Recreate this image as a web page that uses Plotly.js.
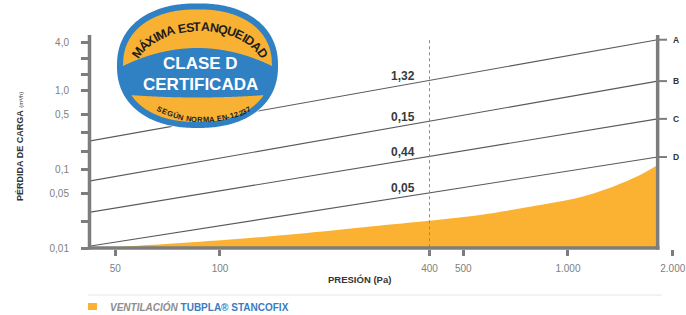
<!DOCTYPE html>
<html><head><meta charset="utf-8">
<script src="https://cdn.plot.ly/plotly-3.0.1.min.js"></script>
<style>html,body{margin:0;padding:0;background:#fff}#chart{width:686px;height:315px}</style>
</head><body><div id="chart"></div>
<script>
// ---------------- data ----------------
const classNames = ['A', 'B', 'C', 'D'];
const classLabels = ['1,32', '0,15', '0,44', '0,05'];
const pressureEnds = [42, 1810];                 // Pa, left and right end of class lines
const lossA = [0.23, 4.4];
const lossB = [0.072, 1.32];
const lossC = [0.029, 0.44];
const lossD = [0.0108, 0.145];
const tubplaPressure = [42, 79, 154, 298, 400, 559, 778, 1083, 1347, 1611, 1810];
const tubplaLoss = [0.0101, 0.0120, 0.0150, 0.0201, 0.0228, 0.0269, 0.0342, 0.0450, 0.0612, 0.0860, 0.115];
const refPressure = 400;
const xTickVals = [50, 100, 400, 500, 1000, 2000];
const xTickText = ['50', '100', '400', '500', '1.000', '2.000'];
const yTickVals = [4, 2.52, 1.59, 1, 0.5, 0.292, 0.171, 0.1, 0.05, 0.0224, 0.01];
const yTickText = ['4,0', '', '', '1,0', '0,5', '', '', '0,1', '0,05', '', '0,01'];
const seriesName = 'VENTILACIÓN TUBPLA® STANCOFIX';
const yTitle = 'PÉRDIDA DE CARGA';
const yUnit = '(m³/h)';
const xTitle = 'PRESIÓN (Pa)';
const badgeTop = 'MÁXIMA ESTANQUEIDAD';
const badgeMain = ['CLASE D', 'CERTIFICADA'];
const badgeBottom = 'SEGÚN NORMA EN-12237';

// ---------------- layout helpers ----------------
const FONT = 'Liberation Sans, Arial, sans-serif';
const ML = 89, MR = 6, MT = 35, MB = 66, W = 686, H = 315;
const PW = W - ML - MR, PH = H - MT - MB;
const GRAY = '#7d7d7d';
const ORANGE = '#fbb232';
const BLUE = '#3080c4';
const BAND = '#f8b133';
const P = (px, py) => [(px - ML) / PW, (MT + PH - py) / PH];
const fx = px => (px - ML) / PW;
const fy = py => (MT + PH - py) / PH;

const lines = [lossA, lossB, lossC, lossD];
const traces = [];
traces.push({
  x: tubplaPressure, y: tubplaLoss,
  type: 'scatter', mode: 'lines', fill: 'tozeroy', fillcolor: ORANGE,
  line: {color: 'rgba(0,0,0,0)', width: 0, shape: 'spline', smoothing: 0.8}, name: seriesName, showlegend: false, hoverinfo: 'skip'
});
lines.forEach((l, i) => traces.push({
  x: pressureEnds, y: l, type: 'scatter', mode: 'lines',
  line: {color: '#5a5a5a', width: 1.1}, name: classNames[i], showlegend: false
}));

const shapes = [];
const annotations = [];

// dashed 400 Pa line
shapes.push({type: 'line', xref: 'x', yref: 'paper', x0: refPressure, x1: refPressure, y0: -0.02, y1: fy(38),
  line: {color: '#8a8a8a', width: 1, dash: '3px,3px'}, layer: 'above'});
// frame
shapes.push({type: 'line', xref: 'paper', yref: 'paper', x0: fx(89.5), x1: fx(89.5), y0: fy(35), y1: fy(249.5), line: {color: GRAY, width: 3.5}, layer: 'above'});
shapes.push({type: 'line', xref: 'paper', yref: 'paper', x0: fx(88), x1: fx(659.5), y0: fy(248), y1: fy(248), line: {color: GRAY, width: 3.5}, layer: 'above'});
shapes.push({type: 'line', xref: 'x', yref: 'paper', x0: pressureEnds[1], x1: pressureEnds[1], y0: fy(35), y1: fy(249.5), line: {color: GRAY, width: 3.5}, layer: 'above'});

const lg = Math.log10;
lines.forEach((l, i) => {
  shapes.push({type: 'line', xref: 'paper', yref: 'y', x0: fx(659), x1: fx(667), y0: l[1], y1: l[1], line: {color: GRAY, width: 2}, layer: 'above'});
  annotations.push({x: lg(pressureEnds[1]), y: lg(l[1]), xref: 'x', yref: 'y', text: classNames[i], showarrow: false,
    xanchor: 'left', yanchor: 'middle', xshift: 13, font: {family: FONT, size: 8.5, color: '#333', weight: 'bold'}});
  const f = (lg(refPressure) - lg(pressureEnds[0])) / (lg(pressureEnds[1]) - lg(pressureEnds[0]));
  const ly = lg(l[0]) + f * (lg(l[1]) - lg(l[0]));
  annotations.push({x: lg(refPressure), y: ly, xref: 'x', yref: 'y', text: classLabels[i], showarrow: false,
    xanchor: 'right', yanchor: 'middle', xshift: -13, yshift: 4.5, font: {family: FONT, size: 12, color: '#3a3a3a', weight: 'bold'}});
});

// axis titles
annotations.push({x: fx(20), y: fy(147), xref: 'paper', yref: 'paper', textangle: -90, showarrow: false,
  text: '<b>' + yTitle + '</b> <span style="font-size:6px">' + yUnit + '</span>',
  font: {family: FONT, size: 9, color: '#333'}, xanchor: 'center', yanchor: 'middle'});
annotations.push({x: fx(359), y: fy(279), xref: 'paper', yref: 'paper', showarrow: false,
  text: '<b>' + xTitle + '</b>', font: {family: FONT, size: 9.5, color: '#333'}, xanchor: 'center', yanchor: 'middle'});

// legend (custom)
shapes.push({type: 'line', xref: 'paper', yref: 'paper', x0: fx(88), x1: fx(662), y0: fy(295), y1: fy(295), line: {color: '#e6e6e6', width: 1}});
shapes.push({type: 'rect', xref: 'paper', yref: 'paper', x0: fx(88), x1: fx(97), y0: fy(310), y1: fy(303), fillcolor: ORANGE, line: {width: 0}});
const sn = seriesName.split(' ');
annotations.push({x: fx(108), y: fy(306.5), xref: 'paper', yref: 'paper', showarrow: false, xanchor: 'left', yanchor: 'middle',
  text: '<b><i>' + sn[0] + '</i> <span style="color:#3b7cc0">' + sn.slice(1).join(' ') + '</span></b>',
  font: {family: FONT, size: 10, color: '#8e8e8e'}});

// ---------------- badge (superellipse) ----------------
const BX = 197.5, BY = 65.7, BRX = 80.5, BRY = 62.3, NE = 2.25, INSET = 6;
function pathFrom(pts) {
  return 'M' + pts.map(p => { const q = P(p[0], p[1]); return q[0].toFixed(5) + ',' + q[1].toFixed(5); }).join('L') + 'Z';
}
function superPts(cx, cy, rx, ry, n, N) {
  const pts = [];
  for (let i = 0; i < N; i++) {
    const t = 2 * Math.PI * i / N, c = Math.cos(t), s = Math.sin(t);
    pts.push([cx + rx * Math.sign(c) * Math.pow(Math.abs(c), 2 / n), cy + ry * Math.sign(s) * Math.pow(Math.abs(s), 2 / n)]);
  }
  return pts;
}
shapes.push({type: 'path', xref: 'paper', yref: 'paper', path: pathFrom(superPts(BX, BY, BRX + 0.8, BRY + 0.8, NE, 360)),
  fillcolor: '#ffffff', line: {width: 0}, layer: 'above'});
shapes.push({type: 'path', xref: 'paper', yref: 'paper', path: pathFrom(superPts(BX, BY, BRX, BRY, NE, 360)),
  fillcolor: BLUE, line: {width: 0}, layer: 'above'});
const IRX = BRX - INSET, IRY = BRY - INSET;
const topO = [], topI = [], botO = [], botI = [];
for (let i = 0; i <= 400; i++) {
  const x = BX - IRX + 2 * IRX * i / 400;
  const u = Math.abs((x - BX) / IRX);
  const v = Math.pow(Math.max(0, 1 - Math.pow(u, NE)), 1 / NE);
  const yo = BY - IRY * v, yb = BY + IRY * v;
  const yi = 48 + 18 * Math.pow((x - BX) / IRX, 2);
  const yj = 97.5 - 3 * Math.pow((x - BX) / IRX, 2);
  if (yo < yi) { topO.push([x, yo]); topI.push([x, yi]); }
  if (yb > yj) { botI.push([x, yj]); botO.push([x, yb]); }
}
shapes.push({type: 'path', xref: 'paper', yref: 'paper', path: pathFrom(topO.concat(topI.reverse())), fillcolor: BAND, line: {width: 0}, layer: 'above'});
shapes.push({type: 'path', xref: 'paper', yref: 'paper', path: pathFrom(botI.concat(botO.reverse())), fillcolor: BAND, line: {width: 0}, layer: 'above'});

const ctx = document.createElement('canvas').getContext('2d');
function arcChars(str, cx, cy, rx, ry, lower, a1, a2, size, color) {
  ctx.font = 'bold ' + size + 'px "Liberation Sans"';
  const chars = [...str];
  const w = chars.map(c => ctx.measureText(c).width);
  const pt = t => { const r = t * Math.PI / 180; return [cx + rx * Math.cos(r), lower ? cy + ry * Math.sin(r) : cy - ry * Math.sin(r)]; };
  const N = 2000, tab = [];
  let s = 0, prev = pt(a1);
  for (let i = 0; i <= N; i++) {
    const p = pt(a1 + (a2 - a1) * i / N);
    if (i > 0) s += Math.hypot(p[0] - prev[0], p[1] - prev[1]);
    tab.push([s, p]); prev = p;
  }
  const inner = w.reduce((a, b) => a + b, 0) - w[0] / 2 - w[w.length - 1] / 2;
  const k = s / inner;
  let pos = 0;
  chars.forEach((c, i) => {
    if (i > 0) pos += k * (w[i - 1] / 2 + w[i] / 2);
    let j = tab.findIndex(e => e[0] >= pos - 1e-9); if (j < 0) j = N;
    const p = tab[j][1];
    const p0 = tab[Math.max(0, j - 4)][1], p1 = tab[Math.min(N, j + 4)][1];
    const ang = Math.atan2(p1[1] - p0[1], p1[0] - p0[0]) * 180 / Math.PI;
    if (c.trim()) {
      const q = P(p[0], p[1]);
      annotations.push({x: q[0], y: q[1], xref: 'paper', yref: 'paper', text: c, showarrow: false, textangle: ang,
        xanchor: 'center', yanchor: 'middle', borderpad: 0, font: {family: FONT, size: size, color: color, weight: 'bold'}});
    }
  });
}
arcChars(badgeTop, 200, 71, 68, 44, false, 156, 24, 12.5, '#1d1d1d');
arcChars(badgeBottom, 204, 80, 65, 40, true, 133, 47, 7.5, '#1d1d1d');
annotations.push({x: fx(200), y: fy(64), xref: 'paper', yref: 'paper', text: '<b>' + badgeMain[0] + '</b>', showarrow: false,
  font: {family: FONT, size: 17, color: '#ffffff'}, xanchor: 'center', yanchor: 'middle'});
annotations.push({x: fx(200.5), y: fy(84.5), xref: 'paper', yref: 'paper', text: '<b>' + badgeMain[1] + '</b>', showarrow: false,
  font: {family: FONT, size: 17, color: '#ffffff'}, xanchor: 'center', yanchor: 'middle'});

const layout = {
  width: W, height: H,
  margin: {l: ML, r: MR, t: MT, b: MB, pad: 0},
  paper_bgcolor: '#ffffff', plot_bgcolor: '#ffffff',
  showlegend: false,
  font: {family: FONT},
  xaxis: {type: 'log', range: [1.62361, 3.32189], tickvals: xTickVals, ticktext: xTickText,
    ticks: 'outside', ticklen: 6, tickwidth: 3, tickcolor: GRAY, showgrid: false, zeroline: false, showline: false,
    tickfont: {family: FONT, size: 10, color: '#808080'}, ticklabelstandoff: 4},
  yaxis: {type: 'log', range: [-2.0005, 0.70305], tickvals: yTickVals, ticktext: yTickText,
    ticks: 'outside', ticklen: 7, tickwidth: 3, tickcolor: GRAY, showgrid: false, zeroline: false, showline: false,
    tickfont: {family: FONT, size: 10, color: '#808080'}, ticklabelstandoff: 10},
  shapes: shapes,
  annotations: annotations
};
Plotly.newPlot('chart', traces, layout, {staticPlot: true, displayModeBar: false});
</script>
</body></html>
